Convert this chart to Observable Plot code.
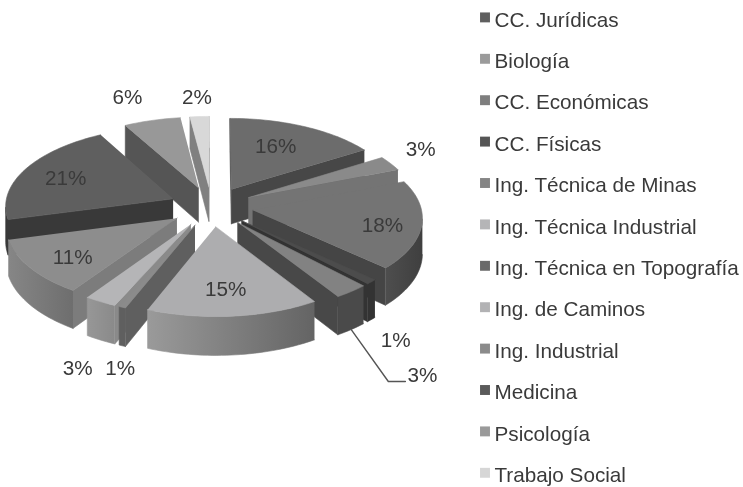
<!DOCTYPE html>
<html>
<head>
<meta charset="utf-8">
<script src="https://cdn.jsdelivr.net/npm/d3@7"></script>
<script src="https://cdn.jsdelivr.net/npm/@observablehq/plot@0.6"></script>
<style>
html,body{margin:0;padding:0;background:#fff}
svg{display:block;filter:blur(.5px)}
</style>
</head>
<body>
<div id="chart"></div>
<script>
const categories = ["CC. Jurídicas","Biología","CC. Económicas","CC. Físicas","Ing. Técnica de Minas","Ing. Técnica Industrial","Ing. Técnica en Topografía","Ing. de Caminos","Ing. Industrial","Medicina","Psicología","Trabajo Social"];
const values = [16,3,18,1,3,15,.6,2.8,11.4,21.2,6,2];

// shades
const swatchColors = ["#5f5f5f","#9b9b9b","#7e7e7e","#555555","#858585","#b5b5b7","#696969","#b2b2b4","#8b8b8b","#5a5a5a","#9a9a9a","#d6d6d6"];
const topColors    = ["#6c6c6c","#8a8a8a","#747474","#4c4c4c","#828282","#adadaf","#8b8b8b","#b5b5b7","#8d8d8d","#5f5f5f","#989898","#d8d8d8"];
const sideColors   = ["#474747","#747474","#454545","#333333","#484848","#777777","#5f5f5f","#8a8a8a","#7c7c7c","#393939","#555555","#808080"];
const arcStart     = ["#474747","#747474","#3f3f3f","#333333","#4a4a4a","#646464","#5f5f5f","#8a8a8a","#6e6e6e","#393939","#555555","#808080"];
const arcEnd       = ["#474747","#747474","#4e4e4e","#333333","#4a4a4a","#9a9a9a","#5f5f5f","#979797","#868686","#393939","#555555","#808080"];

// label placement: ground radius from pie centre and turn away from the slice's mid angle
const labelRadius = [.902,1.525,1.026,1.774,2.114,.969,1.817,1.885,.996,.965,1.644,1.548];
const labelTurn   = [-2,-3,2.5,12,7.3,.8,-7.8,-7.5,-2.3,-.9,-2,0];

// view
const W = 743, H = 487, cx = 211, cy = 206, A = 168, B = 79.3;
const persp = .08, explode = .25, depth = 35 / B;
const rad = d => d * Math.PI / 180;
const project = (u, v, down = 0) => {
  const w = 1 + persp * v;
  return {x: u / w, y: v / w - down / w};
};
const toX = px => (px - cx) / A;
const toY = py => (cy - py) / B;

const total = d3.sum(values);
let acc = 0;
const slices = values.map((v, i) => {
  const a0 = acc / total * 360; acc += v; const a1 = acc / total * 360;
  const mid = (a0 + a1) / 2;
  return {i, v, a0, a1, mid, ax: explode * Math.sin(rad(mid)), ay: explode * Math.cos(rad(mid))};
});

const polys = [];
let pid = 0;
const addPoly = (pts, c) => { const id = pid++; pts.forEach(p => polys.push({id, x: p.x, y: p.y, c})); };
const order = slices.slice().sort((p, q) => q.ay - p.ay);
for (const s of order) {
  const n = Math.max(2, Math.ceil((s.a1 - s.a0) / 1.5));
  const rim = d3.range(n + 1).map(k => {
    const a = rad(s.a0 + (s.a1 - s.a0) * k / n);
    return [s.ax + Math.sin(a), s.ay + Math.cos(a)];
  });
  const apex = [s.ax, s.ay];
  const wall = (p, q, c) => addPoly([project(...p), project(...q), project(...q, depth), project(...p, depth)], c);
  const faces = (p, q) => project(...q).x < project(...p).x;
  // straight walls that face the viewer
  if (faces(apex, rim[0])) wall(apex, rim[0], sideColors[s.i]);
  if (faces(rim[n], apex)) wall(rim[n], apex, sideColors[s.i]);
  // curved wall: the run of rim points that face the viewer, as one shape
  const run = rim.filter((p, k) => (k < n && faces(p, rim[k + 1])) || (k > 0 && faces(rim[k - 1], p)));
  if (run.length > 1) {
    const edge = run.map(p => project(...p));
    const foot = run.map(p => project(...p, depth)).reverse();
    addPoly([...edge, ...foot], arcStart[s.i] === arcEnd[s.i] ? arcStart[s.i] : `url(#wall${s.i})`);
  }
  addPoly([apex, ...rim].map(p => project(...p)), topColors[s.i]);
}

const labels = slices.map(s => {
  const a = rad(s.mid + labelTurn[s.i]);
  const p = project(labelRadius[s.i] * Math.sin(a), labelRadius[s.i] * Math.cos(a));
  return {x: p.x, y: p.y, t: Math.round(s.v) + "%"};
});

// leader from the Minas wall to its label
const minas = slices[4];
const polar = (r, d, down = 0) => project(r * Math.sin(rad(d)), r * Math.cos(rad(d)), down);
const leader = [
  project(minas.ax + Math.sin(rad(minas.mid)), minas.ay + Math.cos(rad(minas.mid)), depth),
  polar(2.078, 154.5),
  polar(2.117, 152.4)
];

const legendRow = i => 19.5 + i * 41.4;
const legend = categories.map((name, i) => ({name, i}));

const gradients = () => {
  const defs = d3.create("svg:defs");
  slices.filter(s => arcStart[s.i] !== arcEnd[s.i]).forEach(s => {
    const g = defs.append("linearGradient").attr("id", `wall${s.i}`)
      .attr("x1", 1).attr("x2", 0).attr("y1", 0).attr("y2", 0);
    g.append("stop").attr("offset", 0).attr("stop-color", arcStart[s.i]);
    g.append("stop").attr("offset", 1).attr("stop-color", arcEnd[s.i]);
  });
  return defs.node();
};

const chart = Plot.plot({
  width: W, height: H, margin: 0,
  x: {domain: [-1, 1], range: [cx - A, cx + A], axis: null},
  y: {domain: [-1, 1], range: [cy + B, cy - B], axis: null},
  style: {background: "#fff", fontFamily: "'Liberation Sans', Arial, sans-serif"},
  marks: [
    gradients,
    Plot.line(polys, {x: "x", y: "y", z: "id", curve: "linear",
      fill: {value: "c", scale: null}, stroke: {value: "c", scale: null}, strokeWidth: .6, strokeLinejoin: "round"}),
    Plot.line(leader, {x: "x", y: "y", stroke: "#555555", strokeWidth: 1.4}),
    Plot.text(labels, {x: "x", y: "y", text: "t", fontSize: 20.7, fill: "#3a3a3a"}),
    Plot.dot(legend, {x: () => toX(484.5), y: d => toY(legendRow(d.i) - 2.6), symbol: "square", r: 5.6, stroke: null,
      fill: {value: d => swatchColors[d.i], scale: null}}),
    Plot.text(legend, {x: () => toX(494), y: d => toY(legendRow(d.i)), text: "name", textAnchor: "start", fontSize: 20.7, fill: "#3a3a3a"})
  ]
});
document.getElementById("chart").append(chart);
</script>
</body>
</html>
